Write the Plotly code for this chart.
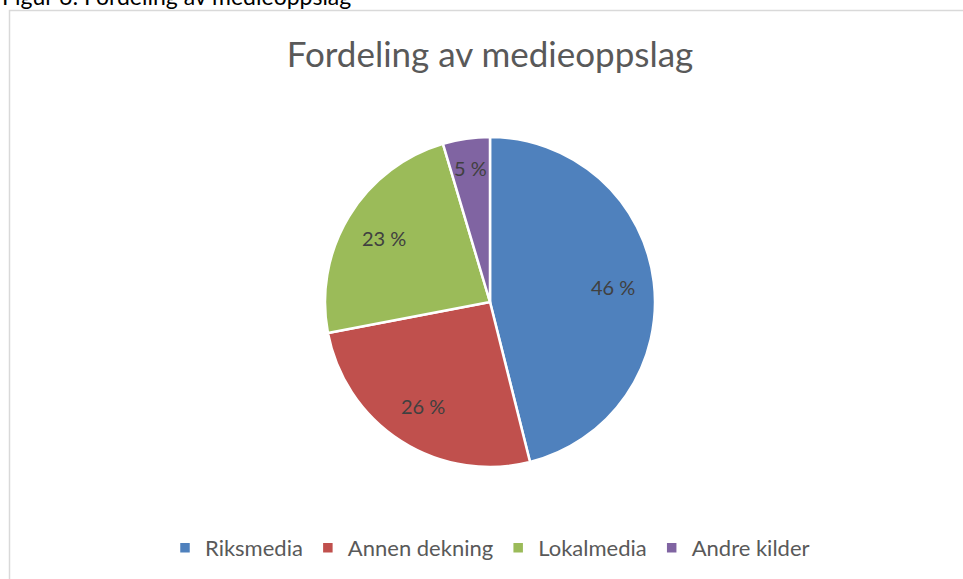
import math
import plotly.graph_objects as go

categories = ["Riksmedia", "Annen dekning", "Lokalmedia", "Andre kilder"]
values = [46.1, 25.9, 23.4, 4.6]
colors = ["#4F81BD", "#C0504D", "#9BBB59", "#8064A2"]
title_text = "Fordeling av medieoppslag"
caption_text = "Figur 6: Fordeling av medieoppslag"

W, H = 963, 579
cx, cy, r = 490, 302, 165
FONT = "Lato"

labels_txt = [f"{round(v)} %" for v in values]

fig = go.Figure(go.Pie(
    labels=categories,
    values=values,
    textinfo="none",
    sort=False,
    direction="clockwise",
    rotation=0,
    marker=dict(colors=colors, line=dict(color="white", width=2.5)),
    domain=dict(x=[(cx - r) / W, (cx + r) / W], y=[(H - cy - r) / H, (H - cy + r) / H]),
    hoverinfo="label+percent",
))

# data labels placed inside each slice along its mid-angle (computed from the values)
total = sum(values)
annotations = []
cum = 0.0
for v, t in zip(values, labels_txt):
    mid = (cum + v / 2) / total * 2 * math.pi
    cum += v
    frac = 0.82 if v / total < 0.1 else 0.75
    px = cx + frac * r * math.sin(mid)
    py = cy - frac * r * math.cos(mid)
    annotations.append(dict(text=t, xref="paper", yref="paper", x=px / W, y=1 - py / H,
                            xanchor="center", yanchor="middle", showarrow=False,
                            font=dict(family=FONT, size=20, color="#404040")))

annotations.append(dict(text=caption_text, xref="paper", yref="paper", x=0, y=1 + 4 / H,
                        xanchor="left", yanchor="middle", showarrow=False,
                        font=dict(family=FONT, size=23, color="#000000")))

fig.update_layout(
    width=W, height=H,
    margin=dict(l=0, r=0, t=0, b=0),
    paper_bgcolor="white",
    plot_bgcolor="white",
    font=dict(family=FONT, color="#595959"),
    title=dict(text=title_text, x=490 / W, xanchor="center", y=1 - 55 / H, yanchor="middle",
               font=dict(family=FONT, size=35, color="#595959")),
    showlegend=True,
    legend=dict(orientation="h", x=490 / W, xanchor="center", y=(H - 548) / H, yanchor="middle",
                font=dict(family=FONT, size=22, color="#595959"), itemwidth=30,
                traceorder="normal"),
    shapes=[dict(type="rect", xref="paper", yref="paper",
                 x0=9.5 / W, x1=1.05, y0=-0.05, y1=1 - 10.5 / H,
                 line=dict(color="#D9D9D9", width=1.5), fillcolor="rgba(0,0,0,0)", layer="below")],
    annotations=annotations,
)

fig.write_html("out.html", config={"displayModeBar": False},
               post_script="document.body.style.margin='0';")
